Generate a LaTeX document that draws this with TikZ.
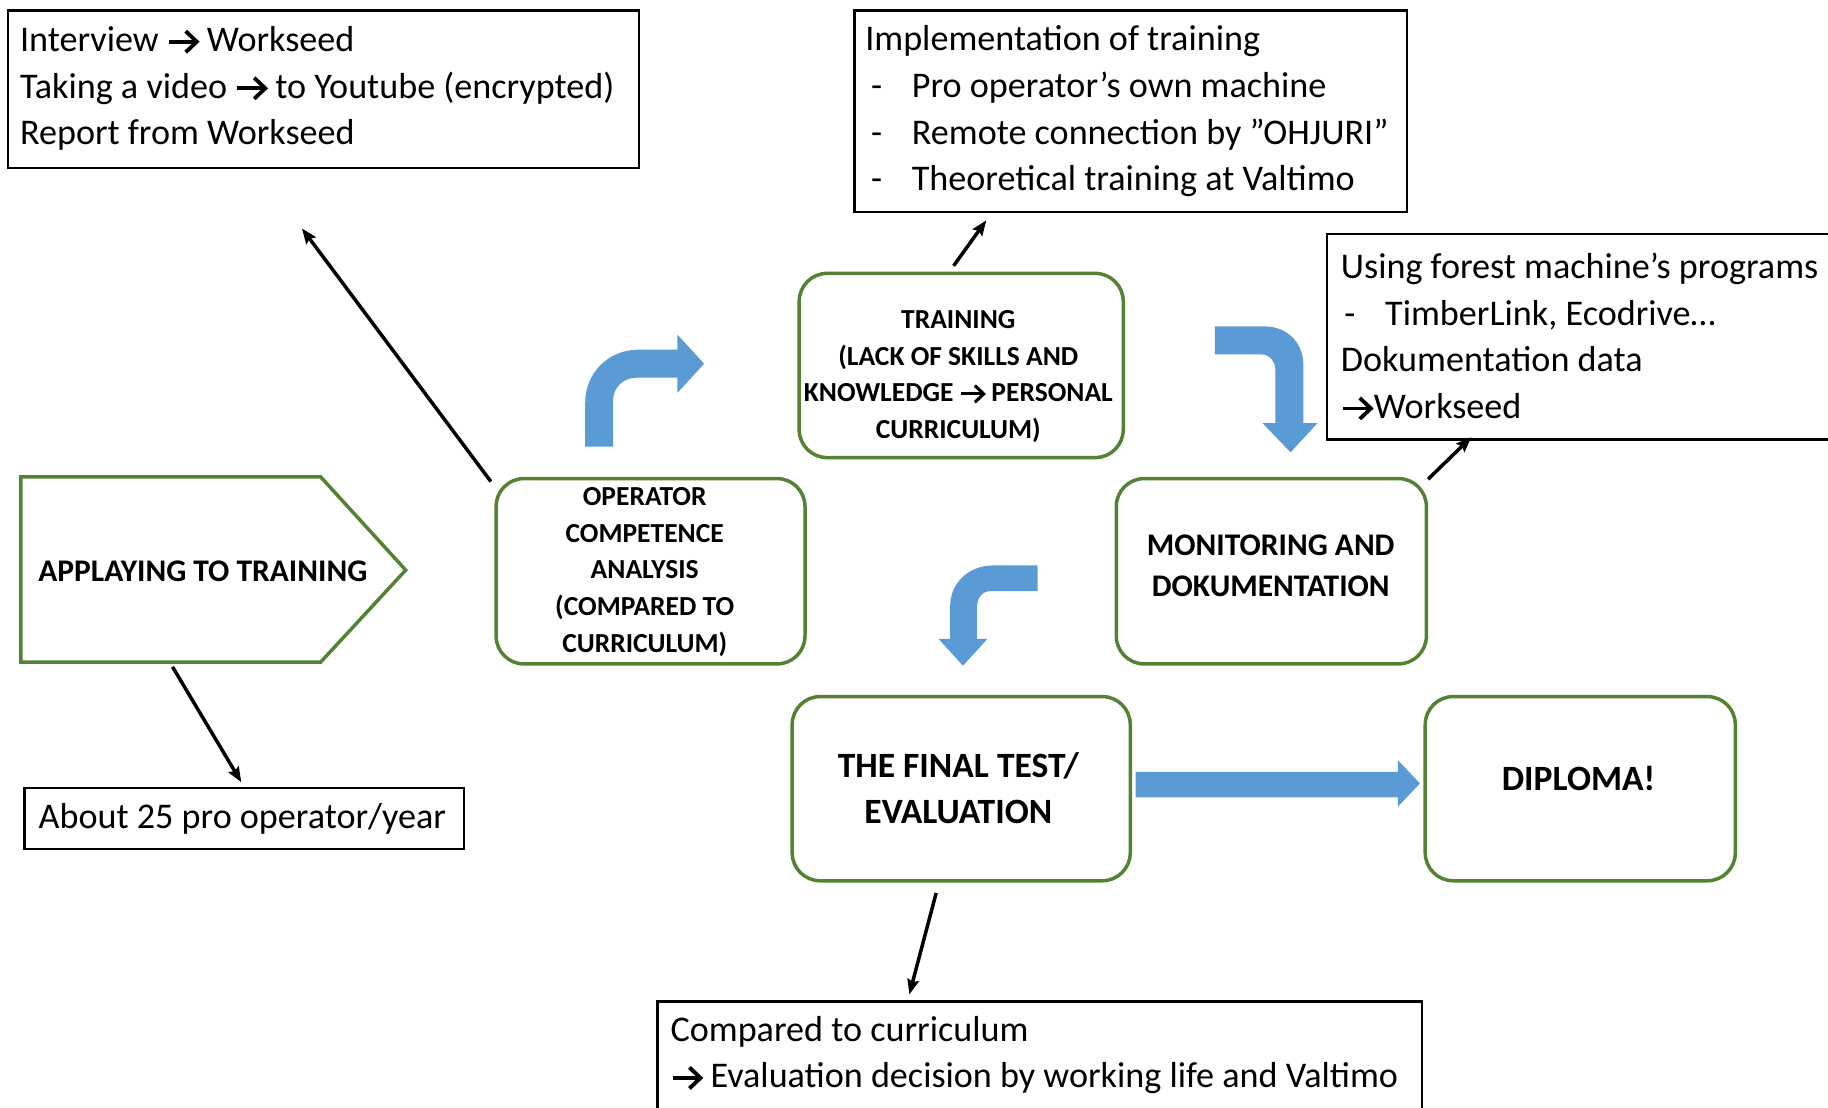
\documentclass[tikz,border=0pt]{standalone}
\usepackage{fontspec}
\setmainfont{Carlito}
\usetikzlibrary{arrows.meta}
\definecolor{gcol}{HTML}{548235}
\definecolor{bcol}{HTML}{5B9BD5}
\newcommand{\myarrow}[1][1]{\tikz[baseline=0pt,x=#1pt,y=#1pt]{\draw[line width=#1*3.3pt, line cap=butt] (0,8.5) -- (23,8.5); \draw[line width=#1*3.3pt, line join=miter] (14.5,17.5) -- (24,8.5) -- (14.5,-0.5);}}
\begin{document}
\begin{tikzpicture}[x=1pt,y=-1pt,
  tbox/.style={draw=black, line width=2pt, anchor=north west, inner sep=0pt},
  gbox/.style={draw=gcol, line width=3pt, rounded corners=24pt, anchor=north west, inner sep=0pt},
  regtxt/.style={font=\fontsize{31}{40}\selectfont, anchor=west, align=left, inner sep=0pt},
  smallg/.style={font=\bfseries\fontsize{23.6}{31.5}\selectfont, align=center, inner sep=0pt},
  midg/.style={font=\bfseries\fontsize{27}{35}\selectfont, align=center, inner sep=0pt},
  bigg/.style={font=\bfseries\fontsize{30.5}{40}\selectfont, align=center, inner sep=0pt},
  conn/.style={line width=3pt, -{Stealth[length=13pt,width=10pt,inset=2pt]}},
  blockarrow/.style={fill=bcol}
]
\useasboundingbox (0,0) rectangle (1568,950);
\clip (0,0) rectangle (1568,950);

% black text boxes
\node[tbox, minimum width=541pt, minimum height=135pt] (box1) at (6,8) {};
\node[regtxt] (box1t) at (17,76) {Interview \myarrow{} Workseed\\Taking a video \myarrow{} to Youtube (encrypted)\\Report from Workseed};

\node[tbox, minimum width=474pt, minimum height=173pt] (box2) at (732,8) {};
\node[regtxt] (box2t) at (742,95.5) {Implementation of training\\
\makebox[40pt][l]{\hspace{5pt}-}Pro operator’s own machine\\
\makebox[40pt][l]{\hspace{5pt}-}Remote connection by ”OHJURI”\\
\makebox[40pt][l]{\hspace{5pt}-}Theoretical training at Valtimo};

\node[tbox, minimum width=470pt, minimum height=176pt] (box3) at (1137,200) {};
\node[regtxt] (box3t) at (1150,289) {Using forest machine’s programs\\
\makebox[38pt][l]{\hspace{3pt}-}TimberLink, Ecodrive…\\
Dokumentation data\\
\myarrow\hspace{1pt}Workseed};

\node[tbox, minimum width=377pt, minimum height=52pt] (box4) at (20,675) {};
\node[regtxt] (box4t) at (33,702) {About 25 pro operator/year};

\node[tbox, minimum width=656pt, minimum height=100pt] (box5) at (563,858) {};
\node[regtxt] (box5t) at (575,905) {Compared to curriculum\\\myarrow{} Evaluation decision by working life and Valtimo};

% green shapes
\draw[gcol, line width=3pt] (18,409) -- (275,409) -- (348,489) -- (275,568) -- (18,568) -- cycle;
\node[midg] (apply) at (174,490) {APPLAYING TO TRAINING};
\coordinate (applybot) at (148,572);

\node[gbox, minimum width=265pt, minimum height=159pt] (oper) at (424,409) {};
\node[smallg] (opert) at (553,490.5) {OPERATOR\\COMPETENCE\\ANALYSIS\\(COMPARED TO\\CURRICULUM)};

\node[gbox, minimum width=278pt, minimum height=158pt] (train) at (684,233) {};
\node[smallg] (traint) at (822,323) {TRAINING\\(LACK OF SKILLS AND\\KNOWLEDGE \myarrow[0.8]{} PERSONAL\\CURRICULUM)};

\node[gbox, minimum width=266pt, minimum height=159pt] (monit) at (956,409) {};
\node[midg] (monitt) at (1090,485) {MONITORING AND\\DOKUMENTATION};

\node[gbox, minimum width=290pt, minimum height=158pt] (final) at (678,596) {};
\node[bigg] (finalt) at (822,676) {THE FINAL TEST/\\EVALUATION};

\node[gbox, minimum width=266pt, minimum height=158pt] (dipl) at (1221,596) {};
\node[bigg] (diplt) at (1354,668) {DIPLOMA!};

% blue block arrows
\fill[blockarrow] (502,383) -- (502,345) .. controls (502,320) and (522,300) .. (547,300) -- (581,300) -- (581,287) -- (604,312) -- (581,337) -- (581,324) -- (546,324) .. controls (535,324) and (526,332) .. (526,343) -- (526,383) -- cycle;
\fill[blockarrow] (1042,280) -- (1085,280) .. controls (1104,280) and (1118,294) .. (1118,313) -- (1118,363) -- (1130,363) -- (1107,388) -- (1083,363) -- (1094,363) -- (1094,318) .. controls (1094,310) and (1089,304) .. (1082,304) -- (1042,304) -- cycle;
\fill[blockarrow] (890,485) -- (852,485) .. controls (831,485) and (815,500) .. (815,520) -- (815,548) -- (805,548) -- (826,571) -- (847,548) -- (838,548) -- (838,522) .. controls (838,513) and (842,507) .. (850,507) -- (890,507) -- cycle;
\fill[blockarrow] (974,662) -- (1199,662) -- (1199,652) -- (1218,672) -- (1199,692) -- (1199,684) -- (974,684) -- cycle;

% black connectors
\coordinate (c1s) at (421,413); \coordinate (c1e) at (259,196);
\coordinate (c2s) at (818,228); \coordinate (c2e) at (846,189);
\coordinate (c3s) at (1225,411); \coordinate (c3e) at (1262,375);
\coordinate (c4e) at (207,671);
\coordinate (c5s) at (803,766); \coordinate (c5e) at (780,853);
\draw[conn] (c1s) -- (c1e);
\draw[conn] (c2s) -- (c2e);
\draw[conn] (c3s) -- (c3e);
\draw[conn] (applybot) -- (c4e);
\draw[conn] (c5s) -- (c5e);
\end{tikzpicture}
\end{document}
